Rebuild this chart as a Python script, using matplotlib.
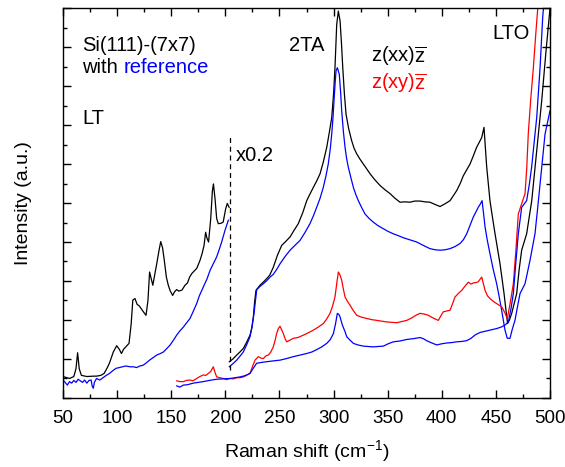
import matplotlib
matplotlib.use("Agg")
import matplotlib.pyplot as plt
from matplotlib.ticker import MultipleLocator, NullFormatter

plt.rcParams['font.family'] = ['Liberation Sans', 'DejaVu Sans']
plt.rcParams['mathtext.fontset'] = 'custom'
plt.rcParams['mathtext.rm'] = 'Liberation Sans'
plt.rcParams['mathtext.it'] = 'Liberation Sans:italic'

# ---- low-frequency part (shown x0.2) ----
low_black_x = [50, 56, 60, 62, 63.5, 65, 67, 72, 78, 81, 85, 88, 91, 93, 96.5, 99.6, 102, 104,
               106, 108, 111, 113, 114.5, 116.5, 118.5, 120.5, 122, 124, 126.7, 128.5, 130, 133,
               135, 136.6, 138.5, 140.3, 142, 143.5, 145.5, 147.3, 149, 151.3, 153, 155, 157, 160,
               162.7, 165, 167, 169, 171, 173.5, 175, 176.6, 178.5, 180.3, 181.8, 183, 184.5,
               186.5, 188, 189, 190.5, 192, 193.5, 196, 198, 200.3, 201.8, 203.5]
low_black_y = [0.55, 0.50, 0.55, 0.75, 1.16, 0.75, 0.58, 0.55, 0.56, 0.56, 0.58, 0.63, 0.78, 0.90,
               1.18, 1.34, 1.25, 1.14, 1.25, 1.31, 1.40, 1.90, 2.51, 2.55, 2.40, 2.36, 2.30, 2.22,
               2.12, 2.50, 3.23, 2.89, 3.20, 3.44, 3.75, 4.01, 3.85, 3.55, 3.10, 2.89, 2.75, 2.63,
               2.72, 2.78, 2.74, 2.77, 2.89, 2.95, 3.10, 3.19, 3.25, 3.32, 3.42, 3.53, 3.70, 3.91,
               4.25, 4.10, 4.00, 4.60, 5.30, 5.49, 5.10, 4.60, 4.47, 4.48, 4.51, 4.85, 4.99, 4.89]

low_blue_x = [50, 52, 54, 56, 58, 60, 62, 64, 66, 68, 70, 72, 74, 76, 77, 78, 79, 81, 84, 87, 90,
              93, 96, 99, 102, 105, 108, 112, 115, 118, 121, 124, 127, 130, 133, 136.6, 140, 142.8,
              146, 149, 152, 155, 158, 161.3, 164, 167.4, 170, 173.5, 176, 179.7, 183, 186, 189,
              192, 194.5, 196.6, 199.7, 202.8]
low_blue_y = [0.46, 0.40, 0.33, 0.42, 0.38, 0.45, 0.40, 0.48, 0.44, 0.40, 0.46, 0.38, 0.45, 0.46,
              0.30, 0.25, 0.40, 0.50, 0.46, 0.52, 0.58, 0.63, 0.70, 0.76, 0.78, 0.80, 0.82, 0.80,
              0.80, 0.78, 0.82, 0.84, 0.90, 0.97, 1.03, 1.10, 1.14, 1.18, 1.27, 1.36, 1.48, 1.61,
              1.72, 1.82, 1.92, 2.04, 2.20, 2.42, 2.62, 2.85, 3.05, 3.28, 3.45, 3.62, 3.82, 4.00,
              4.30, 4.56]

# ---- z(xx)z spectrum and its reference ----
xx_x = [203.7, 207, 210.5, 213.5, 216.6, 219.5, 222.8, 224.5, 225.9, 227, 228.3, 232, 235, 238.2,
        241, 244.3, 248, 252, 256, 259.8, 263.5, 267.4, 271.5, 275.2, 278, 281.3, 284.5, 287.5,
        290.5, 293.7, 296, 298.3, 300, 301.3, 302.9, 304.4, 306, 307.3, 308.5, 310, 311.5, 314,
        316.7, 319, 321.4, 324.5, 327.5, 330.5, 333.7, 338, 342.9, 347.5, 352.2, 356.8, 361.4,
        366, 370.6, 375, 379.9, 384.5, 389.1, 394, 398.4, 403, 407.6, 410.5, 413.8, 417, 419.9,
        423, 426.1, 429, 432.2, 434.5, 436.9, 439, 440.3, 441.5, 444.5, 447, 449.2, 453.8, 457.5,
        459.5, 460.8, 462.5, 464.6, 469.2, 471.5, 473.8, 478.4, 483.1, 487.7, 492.3, 496.3, 500]
xx_y = [0.93, 1.00, 1.10, 1.18, 1.27, 1.42, 1.61, 1.80, 2.08, 2.45, 2.76, 2.89, 2.97, 3.06, 3.15,
        3.35, 3.65, 3.91, 4.02, 4.13, 4.30, 4.47, 4.75, 5.06, 5.22, 5.40, 5.57, 5.75, 6.05, 6.43,
        6.80, 7.19, 7.80, 8.47, 9.58, 9.92, 9.67, 9.10, 8.47, 7.80, 7.28, 6.90, 6.60, 6.40, 6.26,
        6.12, 6.00, 5.88, 5.75, 5.60, 5.45, 5.34, 5.24, 5.12, 5.02, 5.03, 5.02, 5.05, 5.05, 5.03,
        5.02, 4.96, 4.91, 4.98, 5.06, 5.18, 5.32, 5.50, 5.70, 5.85, 6.00, 6.20, 6.43, 6.55, 6.68,
        6.94, 6.40, 5.92, 5.06, 4.60, 4.21, 3.44, 2.68, 2.20, 1.91, 2.00, 2.17, 2.68, 3.30, 3.79,
        4.21, 5.06, 6.34, 7.62, 8.90, 10.0]

ref_xx_x = [203.7, 207, 210.5, 213.5, 216.6, 219.5, 222.8, 224.8, 226.5, 229, 232, 235.1, 238,
            241.3, 244.3, 247.5, 250.5, 255, 259.8, 264.5, 269, 273.5, 278.2, 281.5, 284.4, 287.5,
            290.5, 293, 295.1, 297, 298.3, 299.5, 300.4, 301.5, 302.3, 303.5, 305.3, 306.5, 307.5,
            309, 310.6, 312, 313.6, 316, 318.3, 320.5, 322.9, 326, 329, 333, 336.7, 341, 346,
            350.5, 355.2, 360, 364.4, 370, 376.8, 381, 386, 389.1, 394, 398.4, 403, 407.6, 412,
            416.8, 420, 423, 426, 429.1, 431.5, 433.7, 435.5, 437.2, 438.5, 440, 442, 444.5, 447.5,
            450.7, 453, 455.3, 458.4, 460.5, 463, 465, 467.6, 470, 472.3, 476.9, 479, 481.5, 486.1,
            488.5, 490.8, 493, 495.4, 500]
ref_xx_y = [0.80, 0.88, 0.97, 1.07, 1.18, 1.35, 1.57, 1.85, 2.17, 2.78, 2.86, 2.93, 3.00, 3.10,
            3.17, 3.30, 3.44, 3.62, 3.79, 3.92, 4.04, 4.24, 4.47, 4.68, 4.89, 5.12, 5.40, 5.70,
            6.00, 6.40, 6.77, 7.20, 7.62, 8.10, 8.39, 8.47, 8.30, 7.85, 7.37, 6.85, 6.43, 6.15,
            5.92, 5.65, 5.40, 5.22, 5.06, 4.88, 4.72, 4.60, 4.51, 4.42, 4.34, 4.27, 4.21, 4.16,
            4.11, 4.06, 4.00, 3.94, 3.87, 3.83, 3.80, 3.79, 3.80, 3.83, 3.88, 3.96, 4.06, 4.21,
            4.42, 4.64, 4.77, 4.89, 4.97, 5.06, 4.75, 4.38, 4.05, 3.70, 3.30, 2.93, 2.60, 2.25,
            1.74, 1.53, 1.53, 1.75, 1.99, 2.35, 2.68, 2.93, 3.20, 3.53, 4.21, 4.85, 5.49, 6.10,
            6.77, 7.37]

# ---- z(xy)z spectrum and its reference ----
xy_x = [155.1, 158, 161.2, 164, 167.3, 170, 173.5, 176.5, 179.7, 182, 184.3, 186.5, 188.9, 190.5,
        192, 195, 198.1, 201, 204.3, 207.5, 210.5, 213.5, 216.6, 219.5, 222.8, 225, 227.4, 230.5,
        233, 235.1, 237.5, 239.7, 242, 244.3, 246, 247.4, 249, 250.5, 252, 253.6, 255.2, 256.7,
        259.5, 262.8, 267, 272, 276.5, 281.3, 286, 290.5, 293.5, 296.7, 299, 301.3, 303, 304.4,
        306, 307.5, 309, 310.6, 313, 315.2, 318, 321.4, 326, 330.6, 335, 339.9, 344.5, 349.1, 354,
        358.3, 363, 367.6, 372, 376, 379.9, 384, 387.6, 392, 396.8, 399, 401.4, 404.5, 407.6, 410,
        412.2, 415.3, 418.4, 421.5, 424.5, 427, 429.1, 431.5, 433.7, 435.5, 436.9, 438.5, 440,
        442.2, 444.5, 447.5, 450.7, 453, 455.3, 458, 460.5, 463, 466.1, 468.5, 470.7, 473.8, 476.9,
        478.5, 479.9, 482, 484.6, 487, 489.2]
xy_y = [0.44, 0.42, 0.42, 0.45, 0.46, 0.44, 0.50, 0.55, 0.59, 0.58, 0.63, 0.68, 0.80, 0.65, 0.54,
        0.52, 0.50, 0.47, 0.50, 0.49, 0.52, 0.52, 0.54, 0.58, 0.63, 0.80, 0.97, 1.06, 1.02, 1.01,
        1.08, 1.10, 1.18, 1.31, 1.48, 1.65, 1.78, 1.84, 1.75, 1.65, 1.52, 1.44, 1.48, 1.53, 1.55,
        1.61, 1.67, 1.74, 1.82, 1.91, 2.02, 2.17, 2.35, 2.59, 2.95, 3.23, 3.15, 3.02, 2.80, 2.59,
        2.47, 2.38, 2.25, 2.12, 2.07, 2.04, 2.01, 1.99, 1.97, 1.95, 1.94, 1.93, 1.96, 1.99, 2.05,
        2.12, 2.17, 2.15, 2.12, 2.05, 1.99, 2.10, 2.21, 2.23, 2.25, 2.42, 2.59, 2.68, 2.76, 2.87,
        2.97, 2.92, 2.95, 2.96, 2.98, 3.05, 3.10, 2.92, 2.76, 2.62, 2.55, 2.48, 2.42, 2.38, 2.34,
        2.20, 2.04, 2.40, 2.93, 3.80, 4.72, 4.98, 5.24, 5.90, 6.77, 7.60, 8.47, 9.40, 10.18]

ref_xy_x = [155.1, 158, 161.2, 165, 170.4, 175, 179.7, 185, 192, 198, 204.3, 209, 213.5, 218,
            222.8, 225.5, 228.9, 233, 238.2, 244, 250.5, 256.5, 262.8, 269, 275.1, 280, 284.4, 289,
            293.7, 297, 299.8, 301.8, 303.5, 305, 306, 308, 310.6, 312.2, 314.6, 318.3, 322.5,
            327.5, 332, 336.8, 341, 346, 350.5, 355.2, 361, 367.6, 373.5, 379.9, 383, 386, 390,
            395.3, 400, 404.5, 409, 413.8, 418.5, 423, 427, 431, 435.3, 441.5, 446, 450.7, 455,
            458.4, 461.5, 464, 466.1, 468.5, 470.7, 473.8, 478.4, 481, 483, 485.5, 487.7, 490.8,
            493.2, 494.5]
ref_xy_y = [0.31, 0.28, 0.33, 0.34, 0.38, 0.40, 0.42, 0.45, 0.48, 0.49, 0.50, 0.52, 0.54, 0.57,
            0.63, 0.75, 0.89, 0.91, 0.93, 0.95, 0.97, 1.01, 1.06, 1.10, 1.14, 1.18, 1.24, 1.31,
            1.40, 1.50, 1.65, 1.90, 2.17, 2.14, 2.08, 1.88, 1.70, 1.57, 1.50, 1.40, 1.36, 1.33,
            1.32, 1.31, 1.32, 1.33, 1.39, 1.44, 1.46, 1.50, 1.52, 1.55, 1.52, 1.47, 1.42, 1.36,
            1.39, 1.41, 1.42, 1.44, 1.45, 1.47, 1.53, 1.62, 1.68, 1.72, 1.75, 1.78, 1.82, 1.87,
            1.95, 2.30, 2.68, 3.50, 4.21, 4.89, 5.06, 5.50, 5.92, 6.60, 7.19, 8.47, 9.75, 10.18]

# scale break marker
break_x = 204
break_y = [0.72, 6.68]

fig = plt.figure(figsize=(5.65, 4.67), dpi=100)
ax = fig.add_axes([0.1115, 0.1478, 0.862, 0.835])

lw = 0.9
ax.plot(low_black_x, low_black_y, color='black', lw=lw)
ax.plot(low_blue_x, low_blue_y, color='blue', lw=lw)
ax.plot(xx_x, xx_y, color='black', lw=lw)
ax.plot(ref_xx_x, ref_xx_y, color='blue', lw=lw)
ax.plot(xy_x, xy_y, color='red', lw=lw)
ax.plot(ref_xy_x, ref_xy_y, color='blue', lw=lw)
ax.vlines(break_x, break_y[0], break_y[1], colors='black', linestyles=(0, (4, 3)), lw=lw)

ax.set_xlim(50, 500)
ax.set_ylim(0, 10)
ax.xaxis.set_major_locator(MultipleLocator(50))
ax.xaxis.set_minor_locator(MultipleLocator(25))
ax.yaxis.set_major_locator(MultipleLocator(1))
ax.yaxis.set_minor_locator(MultipleLocator(0.5))
ax.yaxis.set_major_formatter(NullFormatter())
ax.tick_params(which='both', direction='in', top=True, right=True, width=1.0)
ax.tick_params(which='major', length=6, labelsize=13.5, pad=9)
ax.tick_params(which='minor', length=3)
for s in ax.spines.values():
    s.set_linewidth(1.0)

ax.set_xlabel('Raman shift (cm$^{-1}$)', fontsize=14, labelpad=8)
ax.set_ylabel('Intensity (a.u.)', fontsize=14, labelpad=13)

fs = 14.5
ax.text(0.040, 0.905, 'Si(111)-(7x7)', transform=ax.transAxes, fontsize=fs, va='center')
ax.text(0.040, 0.847, 'with', transform=ax.transAxes, fontsize=fs, va='center')
ax.text(0.124, 0.847, 'reference', transform=ax.transAxes, fontsize=fs, va='center', color='blue')
ax.text(0.040, 0.717, 'LT', transform=ax.transAxes, fontsize=fs, va='center')
ax.text(0.465, 0.905, '2TA', transform=ax.transAxes, fontsize=fs, va='center')
ax.text(0.632, 0.876, r'z(xx)$\overline{\mathrm{z}}$', transform=ax.transAxes, fontsize=fs, va='center')
ax.text(0.632, 0.809, r'z(xy)$\overline{\mathrm{z}}$', transform=ax.transAxes, fontsize=fs,
        va='center', color='red')
ax.text(0.882, 0.935, 'LTO', transform=ax.transAxes, fontsize=fs, va='center')
ax.text(0.355, 0.623, 'x0.2', transform=ax.transAxes, fontsize=fs, va='center')

fig.savefig('out.png', dpi=100)
